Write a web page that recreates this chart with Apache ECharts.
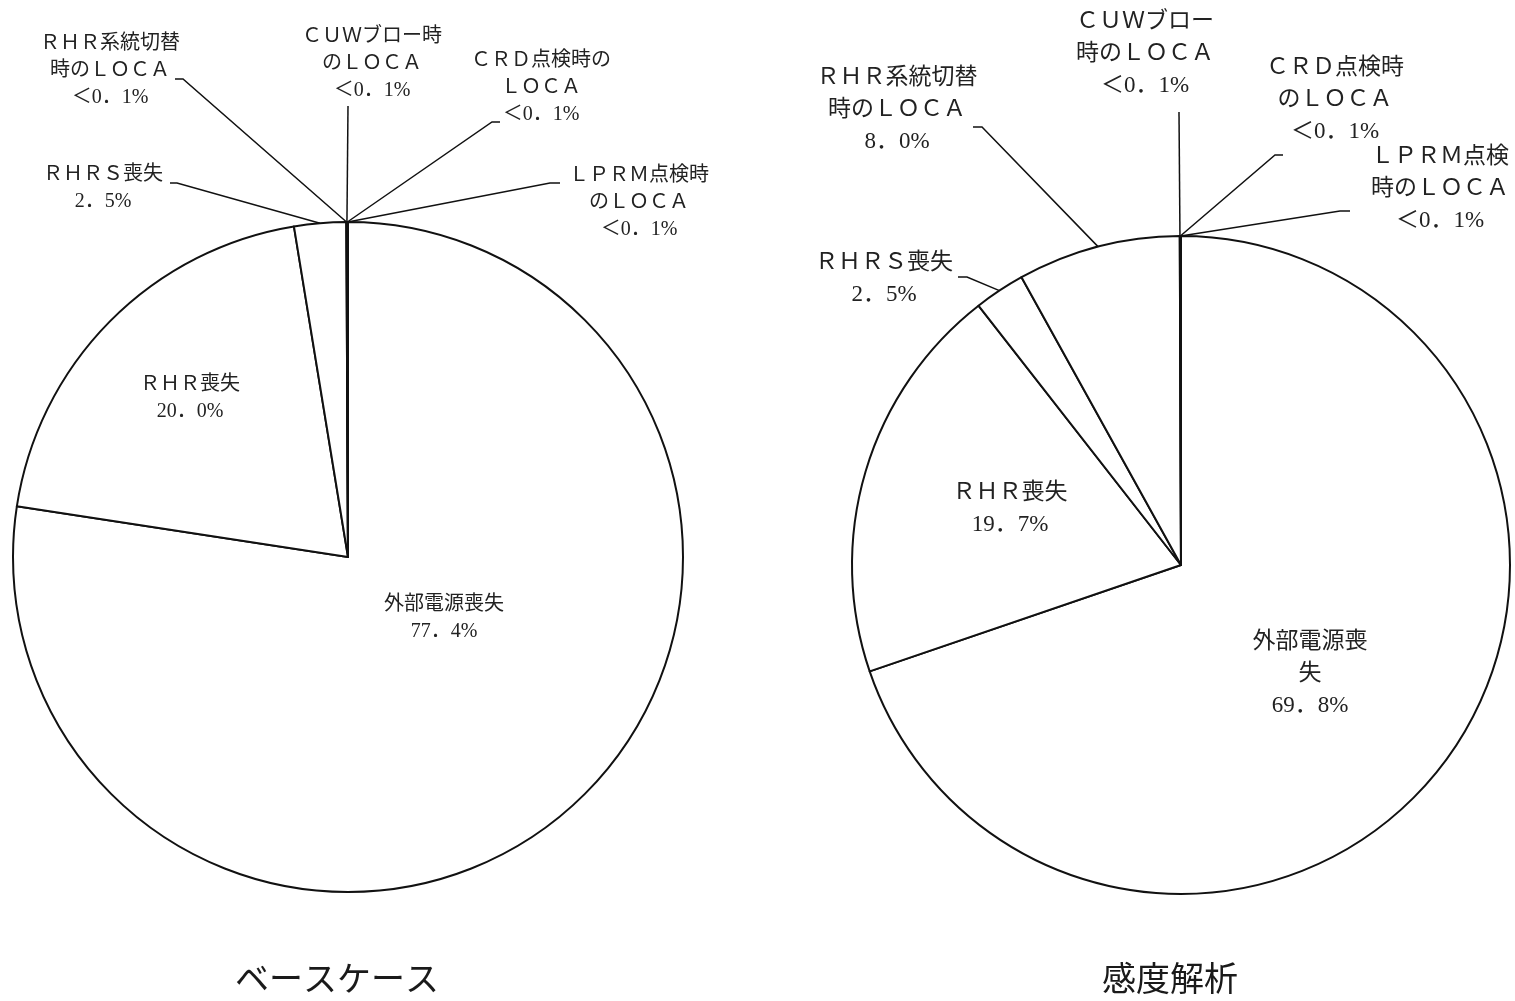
<!DOCTYPE html>
<html lang="ja">
<head>
<meta charset="utf-8">
<title>ベースケース / 感度解析</title>
<script src="https://cdn.jsdelivr.net/npm/echarts@6/dist/echarts.min.js"></script>
<style>
  html, body { margin: 0; padding: 0; background: #fff; }
  #chart { width: 1515px; height: 1001px; }
</style>
</head>
<body>
<div id="chart"></div>
<script>
// ベースケース (%)
const baseNames = ['外部電源喪失', 'ＲＨＲ喪失', 'ＲＨＲＳ喪失', 'ＲＨＲ系統切替\n時のＬＯＣＡ',
  'ＣＵＷブロー時\nのＬＯＣＡ', 'ＣＲＤ点検時の\nＬＯＣＡ', 'ＬＰＲＭ点検時\nのＬＯＣＡ'];
const baseValues = [77.4, 20.0, 2.5, 0.02, 0.02, 0.02, 0.02];

// 感度解析 (%)
const sensNames = ['外部電源喪\n失', 'ＲＨＲ喪失', 'ＲＨＲＳ喪失', 'ＲＨＲ系統切替\n時のＬＯＣＡ',
  'ＣＵＷブロー\n時のＬＯＣＡ', 'ＣＲＤ点検時\nのＬＯＣＡ', 'ＬＰＲＭ点検\n時のＬＯＣＡ'];
const sensValues = [69.8, 19.7, 2.5, 8.0, 0.02, 0.02, 0.02];

const caseTitles = ['ベースケース', '感度解析'];

const FONT = "'Liberation Serif', 'Noto Sans CJK JP', serif";

// where each label block sits (centre) and where its leader line bends, per pie
const labelSpots = [
  [[444, 618], [190, 398], [103, 188], [110, 71], [372, 64], [541, 88], [639, 203]],
  [[1310, 674], [1010, 509], [884, 279], [897, 110], [1145, 54], [1335, 100], [1440, 189]]
];
const leaderBends = [
  [null, null, [[177, 183], [170, 183]], [[183, 79], [175, 79]], [[348, 106]],
    [[492, 122], [500, 122]], [[550, 183], [560, 183]]],
  [null, null, [[967, 277], [958, 277]], [[982, 127], [973, 127]], [[1179, 112]],
    [[1275, 155], [1283, 155]], [[1340, 211], [1350, 211]]]
];

function pctText(v) {
  if (v < 0.1) return '＜0．1%';
  return v.toFixed(1).replace('.', '．') + '%';
}

function buildData(names, values, si) {
  return names.map(function (n, i) {
    const outside = leaderBends[si][i] != null;
    return {
      name: n,
      value: values[i],
      label: { position: outside ? 'outside' : 'inside' },
      labelLine: { show: outside }
    };
  });
}

function layoutFor(si) {
  return function (p) {
    const spot = labelSpots[si][p.dataIndex];
    const res = { x: spot[0], y: spot[1], align: 'center', verticalAlign: 'middle' };
    const bends = leaderBends[si][p.dataIndex];
    if (bends && p.labelLinePoints) {
      res.labelLinePoints = [p.labelLinePoints[0]].concat(bends);
    }
    return res;
  };
}

function pieSeries(si, names, values, center, radius, fontSize, lineHeight) {
  return {
    type: 'pie',
    center: center,
    radius: radius,
    startAngle: 90,
    clockwise: true,
    avoidLabelOverlap: false,
    silent: true,
    itemStyle: { color: '#fff', borderColor: '#111', borderWidth: 2 },
    label: {
      color: '#222',
      fontFamily: FONT,
      fontSize: fontSize,
      lineHeight: lineHeight,
      align: 'center',
      formatter: function (p) { return p.name + '\n' + pctText(p.value); }
    },
    labelLine: { length: 20, length2: 10, lineStyle: { color: '#111', width: 1.5 } },
    labelLayout: layoutFor(si),
    data: buildData(names, values, si)
  };
}

const chart = echarts.init(document.getElementById('chart'));
chart.setOption({
  backgroundColor: '#fff',
  animation: false,
  title: [
    { text: caseTitles[0], left: 235, top: 961, padding: 0,
      textStyle: { fontFamily: "'Noto Sans CJK JP'", fontSize: 34, fontWeight: 'normal', color: '#1a1a1a' } },
    { text: caseTitles[1], left: 1102, top: 961, padding: 0,
      textStyle: { fontFamily: "'Noto Sans CJK JP'", fontSize: 34, fontWeight: 'normal', color: '#1a1a1a' } }
  ],
  series: [
    pieSeries(0, baseNames, baseValues, [348, 557], 335, 20, 27),
    pieSeries(1, sensNames, sensValues, [1181, 565], 329, 23, 32)
  ]
});
</script>
</body>
</html>
